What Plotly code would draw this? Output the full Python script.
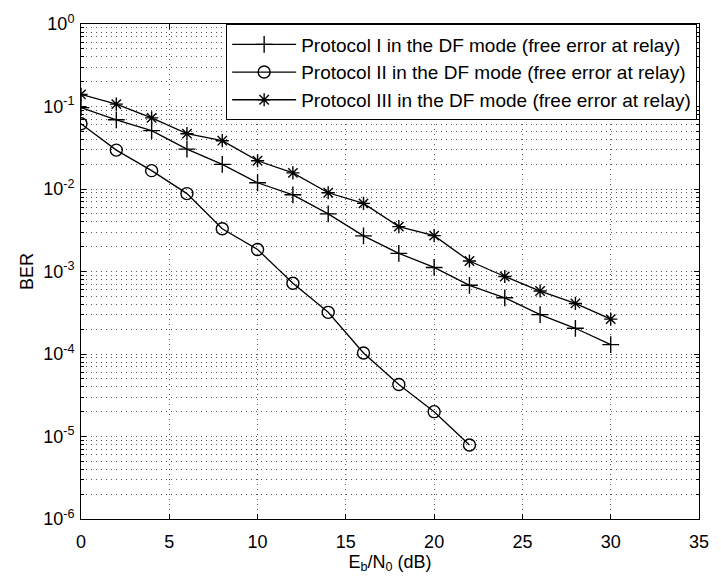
import plotly.graph_objects as go

# Eb/N0 sample points (dB)
snr_13 = [0, 2, 4, 6, 8, 10, 12, 14, 16, 18, 20, 22, 24, 26, 28, 30]
snr_2 = [0, 2, 4, 6, 8, 10, 12, 14, 16, 18, 20, 22]

# Bit error rates for the three protocols
ber_p1 = [0.097, 0.069, 0.051, 0.0304, 0.0199, 0.0119, 0.0085, 0.0050,
          0.0027, 0.00166, 0.00112, 0.00068, 0.00048, 0.00030, 0.000205, 0.00013]
ber_p2 = [0.0617, 0.0296, 0.0167, 0.0088, 0.0033, 0.00185, 0.00072, 0.00032,
          0.000103, 4.27e-5, 2.0e-5, 7.9e-6]
ber_p3 = [0.14, 0.107, 0.0727, 0.0468, 0.0385, 0.022, 0.0157, 0.0090,
          0.0067, 0.0035, 0.00272, 0.00134, 0.00087, 0.00058, 0.00041, 0.000265]

names = [
    "Protocol I in the DF mode (free error at relay)",
    "Protocol II in the DF mode (free error at relay)",
    "Protocol III in the DF mode (free error at relay)",
]

x_ticks = [0, 5, 10, 15, 20, 25, 30, 35]
y_ticks = [1, 1e-1, 1e-2, 1e-3, 1e-4, 1e-5, 1e-6]
y_tick_text = ["10<sup>0</sup>", "10<sup>-1</sup>", "10<sup>-2</sup>", "10<sup>-3</sup>",
               "10<sup>-4</sup>", "10<sup>-5</sup>", "10<sup>-6</sup>"]

FONT = "Liberation Sans, Arial, sans-serif"
BLACK = "#000000"

fig = go.Figure()

series = [
    (snr_13, ber_p1, "cross-thin-open", 12),
    (snr_2, ber_p2, "circle-open", 12),
    (snr_13, ber_p3, "asterisk-open", 11),
]
for i, (xs, ys, sym, sz) in enumerate(series):
    fig.add_trace(go.Scatter(
        x=xs, y=ys, name=names[i], mode="lines+markers",
        legendgroup=f"g{i}",
        line=dict(color=BLACK, width=1.3),
        marker=dict(symbol=sym, size=sz, color=BLACK,
                    line=dict(color=BLACK, width=1.4)),
    ))

grid_dash = "1px,4px"

fig.update_xaxes(
    range=[0, 35], tickvals=x_ticks, ticktext=[str(v) for v in x_ticks],
    showline=True, linecolor=BLACK, linewidth=1, mirror="ticks",
    ticks="inside", ticklen=5, tickcolor=BLACK, ticklabelstandoff=6,
    showgrid=True, gridcolor="#555555", gridwidth=1, griddash=grid_dash,
    zeroline=False,
    title=dict(text="E<sub>b</sub>/N<sub>0</sub> (dB)", standoff=4,
               font=dict(size=18, color=BLACK)),
    tickfont=dict(size=18, color=BLACK),
)
fig.update_yaxes(
    type="log", range=[-6, 0], tickvals=y_ticks, ticktext=y_tick_text,
    showline=True, linecolor=BLACK, linewidth=1, mirror="ticks",
    ticks="inside", ticklen=5, tickcolor=BLACK, ticklabelstandoff=2,
    showgrid=True, gridcolor="#555555", gridwidth=1, griddash=grid_dash,
    minor=dict(dtick="D1", showgrid=True, gridcolor="#555555", gridwidth=1,
               griddash=grid_dash, ticks="inside", ticklen=3, tickcolor=BLACK),
    zeroline=False,
    title=dict(text="BER", standoff=4, font=dict(size=18, color=BLACK)),
    tickfont=dict(size=18, color=BLACK),
)

fig.update_layout(
    width=721, height=580,
    margin=dict(l=81, r=15, t=18, b=60),
    paper_bgcolor="white", plot_bgcolor="white",
    font=dict(family=FONT, size=18, color=BLACK),
    showlegend=True,
    legend=dict(
        x=0.997, y=0.999, xanchor="right", yanchor="top",
        bgcolor="white", bordercolor=BLACK, borderwidth=1,
        font=dict(size=19, color=BLACK), tracegroupgap=0,
        itemwidth=64,
    ),
)

fig.write_html("out.html")
